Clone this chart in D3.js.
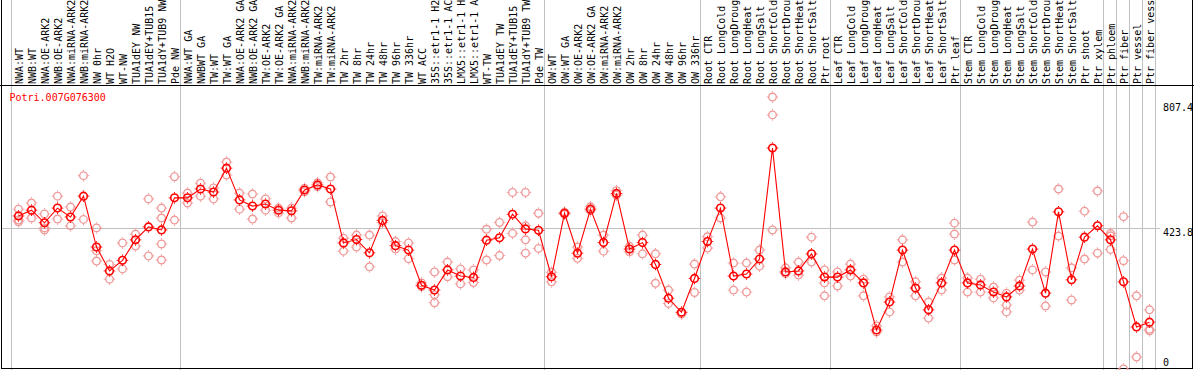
<!DOCTYPE html>
<html><head><meta charset="utf-8">
<script src="https://cdn.jsdelivr.net/npm/d3@7/dist/d3.min.js"></script>
<style>
html,body{margin:0;padding:0;background:#fff;overflow:hidden;}
text{font-family:"DejaVu Sans Mono",monospace;font-size:10px;}
</style></head>
<body><svg id="c" width="1194" height="370"></svg>
<script>
const title = "Potri.007G076300";
const labels = [
"NWA:WT","NWB:WT","NWA:OE-ARK2","NWB:OE-ARK2","NWA:miRNA-ARK2","NWB:miRNA-ARK2","NW 0hr","WT H2O","WT-NW","TUA1dEY NW","TUA1dEY+TUB15 NW","TUA1dY+TUB9 NW","Pde NW",
"NWA:WT GA","NWBWT GA","TW:WT","TW:WT GA","NWA:OE-ARK2 GA","NWB:OE-ARK2 GA","TW:OE-ARK2","TW:OE-ARK2 GA","NWA:miRNA-ARK2 GA","NWB:miRNA-ARK2 GA","TW:miRNA-ARK2","TW:miRNA-ARK2 GA","TW 2hr","TW 8hr","TW 24hr","TW 48hr","TW 96hr","TW 336hr","WT ACC","35S::etr1-1 H2O","35S::etr1-1 ACC","LMX5::etr1-1 H2O","LMX5::etr1-1 ACC","WT-TW","TUA1dEY TW","TUA1dEY+TUB15 TW","TUA1dY+TUB9 TW","Pde TW",
"OW:WT","OW:WT GA","OW:OE-ARK2","OW:OE-ARK2 GA","OW:miRNA-ARK2","OW:miRNA-ARK2 GA","OW 2hr","OW 8hr","OW 24hr","OW 48hr","OW 96hr","OW 336hr",
"Root CTR","Root LongCold","Root LongDrought","Root LongHeat","Root LongSalt","Root ShortCold","Root ShortDrought","Root ShortHeat","Root ShortSalt","Ptr root",
"Leaf CTR","Leaf LongCold","Leaf LongDrought","Leaf LongHeat","Leaf LongSalt","Leaf ShortCold","Leaf ShortDrought","Leaf ShortHeat","Leaf ShortSalt","Ptr leaf",
"Stem CTR","Stem LongCold","Stem LongDrought","Stem LongHeat","Stem LongSalt","Stem ShortCold","Stem ShortDrought","Stem ShortHeat","Stem ShortSalt","Ptr shoot","Ptr xylem",
"Ptr phloem","Ptr fiber","Ptr vessel","Ptr fiber vessel"];
const means = [
459,476,439,482,456,517,368,298,329,389,427,418,512,
512,538,529,599,506,488,494,476,474,535,550,538,380,390,351,446,372,359,256,242,301,283,279,388,395,464,421,417,
281,467,350,479,381,525,362,381,317,218,177,276,
384,482,283,289,333,658,295,298,348,280,
280,301,263,125,207,359,248,184,263,359,
263,257,236,222,254,362,233,471,272,397,430,
389,266,134,148];
const reps = [
[479,447,442],[497,453],[465,424,418],[517,450],[485,430],[577,449],[424,357,327],[317,274],[380,304],[406,371],[509,342],[482,453,377,330],[574,447],
[526,497],[555,517],[541,509],[617,579],[526,479],[523,450],[509,476],[482,468],[482,453],[540,530],[556,545],[573,500],[394,356],[403,368],[403,310],[459,440],[384,362],[380,334],[263,252],[295,228,205],[324,281],[304,260],[301,264],[420,330],[440,343],[528,408],[528,430,389,350],[467,364],
[294,266],[470,464],[368,335],[486,474],[403,356],[533,520],[354,370],[403,348],[348,262],[242,203],[177,172],[318,235],
[398,365],[515,453],[321,242],[321,236],[359,312],[807.4,755,418],[307,290],[324,286],[397,324],[301,263,225],
[295,254],[318,283],[274,225],[137,119],[222,178],[389,324],[266,225],[207,160],[277,242],[438,406,330],
[277,236],[274,236],[251,219],[233,198,178],[271,242],[441,301],[295,195],[538,400],[307,213],[473,333],[532,350],
[408,401,361],[457,328,11],[225,46],[184,127,123]];
const groupBreaks = [0,13,41,53,63,73,84,85,86,87,88];
const tickValues = [807.4,423.8,0];
const tickLabels = ["807.4","423.8","0"];

const svg = d3.select("#c");
const W = 1194, H = 370;
const x = d3.scaleBand().domain(d3.range(labels.length)).range([11,1155]).paddingInner(0).paddingOuter(0);
const cx = i => x(i) + 7.5;
const y = d3.scaleLinear().domain([0,807.4]).range([372.7,97]);

// separators
svg.append("g").selectAll("line").data(groupBreaks).join("line")
  .attr("x1", d => (d < labels.length ? x(d) : x.range()[1]) + 0.5)
  .attr("x2", d => (d < labels.length ? x(d) : x.range()[1]) + 0.5)
  .attr("y1",0).attr("y2",H).attr("stroke","#c0c0c0").attr("stroke-width",1).attr("shape-rendering","crispEdges");
// middle reference line
svg.append("line").attr("x1",2).attr("x2",1160).attr("y1",Math.round(y(423.8))+0.5).attr("y2",Math.round(y(423.8))+0.5)
  .attr("stroke","#c0c0c0").attr("shape-rendering","crispEdges");

// frame
svg.append("line").attr("x1",0).attr("x2",W).attr("y1",85.5).attr("y2",85.5).attr("stroke","#000").attr("shape-rendering","crispEdges");
svg.append("path").attr("d",`M1.5,-2V368.5H1192.5V-2`).attr("fill","none").attr("stroke","#000").attr("stroke-width",1.5).attr("shape-rendering","crispEdges");

// labels
svg.append("g").selectAll("text").data(labels).join("text")
  .attr("transform",(d,i)=>`translate(${cx(i)+4},84) rotate(-90)`)
  .attr("fill","#000").text(d=>d);

// right axis labels
svg.append("g").selectAll("text").data(tickValues).join("text")
  .attr("x",1163)
  .attr("y",(d,i)=> i===0 ? y(d)+13.5 : (i===1 ? y(d)+8.5 : y(d)-7))
  .attr("fill","#000").text((d,i)=>tickLabels[i]);

// title
svg.append("text").attr("x",9.5).attr("y",100.5).attr("fill","#ff0000").text(title);

function marker(g, color, sw){
  g.append("circle").attr("r",3.8).attr("fill","none").attr("stroke",color).attr("stroke-width",sw);
  g.append("path").attr("d","M0,-5.8V-4.6M0,4.6V5.8M-5.8,0H-4.6M4.6,0H5.8").attr("stroke",color).attr("stroke-width",1);
}
// replicates
const repPts = [];
reps.forEach((r,i)=>r.forEach(v=>repPts.push({i,v})));
svg.append("g").selectAll("g").data(repPts).join("g")
  .attr("transform",d=>`translate(${cx(d.i)},${y(d.v)})`)
  .each(function(){ marker(d3.select(this),"#f09a9a",1.4); });

// mean line
svg.append("path").datum(means)
  .attr("d", d3.line().x((d,i)=>cx(i)).y(d=>y(d)))
  .attr("fill","none").attr("stroke","#ff0000").attr("stroke-width",1.1);

svg.append("g").selectAll("g").data(means).join("g")
  .attr("transform",(d,i)=>`translate(${cx(i)},${y(d)})`)
  .each(function(){ marker(d3.select(this),"#ff0000",1.6); });
</script>
</body></html>
